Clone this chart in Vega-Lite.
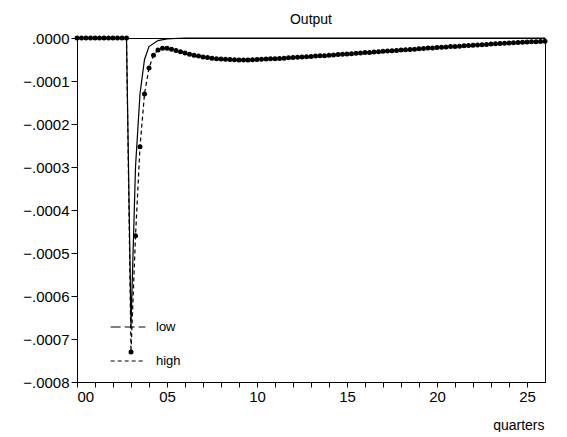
{
"$schema":"https://vega.github.io/schema/vega-lite/v6.json",
"width":468,"height":344,
"padding":{"left":22,"top":13,"right":5,"bottom":0},
"config":{"font":"Liberation Sans","view":{"stroke":"black","strokeWidth":1},"axis":{"grid":false,"domainColor":"black","tickColor":"black","labelColor":"black","labelFontSize":15,"labelFont":"Liberation Sans"}},
"title":{"text":"Output","fontSize":14,"fontWeight":"normal","font":"Liberation Sans","offset":4,"color":"black"},
"datasets":{
"low":[{"q":0,"v":0},{"q":2.75,"v":0},{"q":3.0,"v":-0.00067},{"q":3.25,"v":-0.0003},{"q":3.5,"v":-0.00013},{"q":3.75,"v":-0.00005},{"q":4,"v":-0.00002},{"q":4.5,"v":-0.000006},{"q":5,"v":-0.000002},{"q":6,"v":0},{"q":26,"v":0}],
"high":[{"q":0,"v":0},{"q":0.25,"v":0},{"q":0.5,"v":0},{"q":0.75,"v":0},{"q":1,"v":0},{"q":1.25,"v":0},{"q":1.5,"v":0},{"q":1.75,"v":0},{"q":2,"v":0},{"q":2.25,"v":0},{"q":2.5,"v":0},{"q":2.75,"v":0},
{"q":3,"v":-0.00073},{"q":3.25,"v":-0.00046},{"q":3.5,"v":-0.000253},{"q":3.75,"v":-0.00013},{"q":4,"v":-0.00007},{"q":4.25,"v":-0.00004},{"q":4.5,"v":-0.000028},{"q":4.75,"v":-0.000024},{"q":5,"v":-0.000024},{"q":5.25,"v":-0.000026},{"q":5.5,"v":-0.000029},{"q":5.75,"v":-0.000032},{"q":6,"v":-0.000035},{"q":6.25,"v":-0.000038},{"q":6.5,"v":-0.00004},{"q":6.75,"v":-0.000042},{"q":7,"v":-0.000044},{"q":7.25,"v":-0.0000455},{"q":7.5,"v":-0.000047},{"q":7.75,"v":-0.000048},{"q":8,"v":-0.000049},{"q":8.25,"v":-0.0000495},{"q":8.5,"v":-0.00005},{"q":8.75,"v":-0.0000505},{"q":9,"v":-0.000051},{"q":9.25,"v":-0.000051},{"q":9.5,"v":-0.000051},{"q":9.75,"v":-0.0000505},
{"q":10,"v":-0.00005},{"q":10.25,"v":-0.0000495},{"q":10.5,"v":-0.000049},{"q":10.75,"v":-0.0000485},{"q":11,"v":-0.000048},{"q":11.25,"v":-0.0000475},{"q":11.5,"v":-0.000047},{"q":11.75,"v":-0.000046},{"q":12,"v":-0.0000455},{"q":12.25,"v":-0.000045},{"q":12.5,"v":-0.000044},{"q":12.75,"v":-0.0000435},{"q":13,"v":-0.000043},{"q":13.25,"v":-0.000042},{"q":13.5,"v":-0.0000415},{"q":13.75,"v":-0.000041},{"q":14,"v":-0.00004},{"q":14.25,"v":-0.0000395},{"q":14.5,"v":-0.0000385},{"q":14.75,"v":-0.000038},{"q":15,"v":-0.000037},{"q":15.25,"v":-0.0000365},{"q":15.5,"v":-0.0000355},{"q":15.75,"v":-0.000035},{"q":16,"v":-0.000034},{"q":16.25,"v":-0.0000335},{"q":16.5,"v":-0.0000325},{"q":16.75,"v":-0.000032},{"q":17,"v":-0.000031},{"q":17.25,"v":-0.0000305},{"q":17.5,"v":-0.0000295},{"q":17.75,"v":-0.000029},{"q":18,"v":-0.000028},{"q":18.25,"v":-0.0000275},{"q":18.5,"v":-0.0000265},{"q":18.75,"v":-0.000026},{"q":19,"v":-0.000025},{"q":19.25,"v":-0.0000245},{"q":19.5,"v":-0.0000235},{"q":19.75,"v":-0.000023},{"q":20,"v":-0.000022},{"q":20.25,"v":-0.0000215},{"q":20.5,"v":-0.000021},{"q":20.75,"v":-0.00002},{"q":21,"v":-0.0000195},{"q":21.25,"v":-0.000019},{"q":21.5,"v":-0.000018},{"q":21.75,"v":-0.0000175},{"q":22,"v":-0.000017},{"q":22.25,"v":-0.000016},{"q":22.5,"v":-0.0000155},{"q":22.75,"v":-0.000015},{"q":23,"v":-0.000014},{"q":23.25,"v":-0.0000135},{"q":23.5,"v":-0.000013},{"q":23.75,"v":-0.000012},{"q":24,"v":-0.0000115},{"q":24.25,"v":-0.000011},{"q":24.5,"v":-0.0000105},{"q":24.75,"v":-0.00001},{"q":25,"v":-0.0000095},{"q":25.25,"v":-0.000009},{"q":25.5,"v":-0.0000085},{"q":25.75,"v":-0.000008},{"q":26,"v":-0.0000075}]
},
"encoding":{
"x":{"field":"q","type":"quantitative","scale":{"domain":[0,26],"nice":false,"zero":false},
"axis":{"values":[0,1,2,3,4,5,6,7,8,9,10,11,12,13,14,15,16,17,18,19,20,21,22,23,24,25],"labelExpr":"datum.value%5==0 ? (datum.value<10 ? '0'+datum.value : ''+datum.value) : ''","tickSize":5,"labelPadding":2,"title":"quarters","titleFontWeight":"normal","titleFontSize":14,"titleColor":"black","titleAlign":"right","titleX":467,"titleY":36,"labelOverlap":false}},
"y":{"field":"v","type":"quantitative","scale":{"domain":[-0.0008,0],"nice":false},
"axis":{"values":[0,-0.0001,-0.0002,-0.0003,-0.0004,-0.0005,-0.0006,-0.0007,-0.0008],"labelExpr":"replace(format(datum.value,'.4f'),'0.','.')","title":null,"tickSize":6}}
},
"layer":[
{"data":{"name":"low"},"mark":{"type":"line","color":"black","opacity":0},"transform":[{"calculate":"'low'","as":"s"}],
 "encoding":{"strokeDash":{"field":"s","type":"nominal","scale":{"domain":["low","high"],"range":[[10,4],[4,3]]},
 "legend":{"orient":"none","legendX":33,"legendY":271,"title":null,"symbolType":"stroke","symbolStrokeColor":"black","symbolSize":1200,"symbolOpacity":1,"labelFontSize":13,"labelColor":"black","labelOffset":10,"rowPadding":9,"symbolStrokeWidth":1.2}}}},
{"data":{"name":"low"},"mark":{"type":"line","color":"black","strokeWidth":1.2}},
{"data":{"name":"high"},"mark":{"type":"line","color":"black","strokeDash":[4,3],"strokeWidth":1.2,"point":{"filled":true,"color":"black","size":25}}}
]
}
